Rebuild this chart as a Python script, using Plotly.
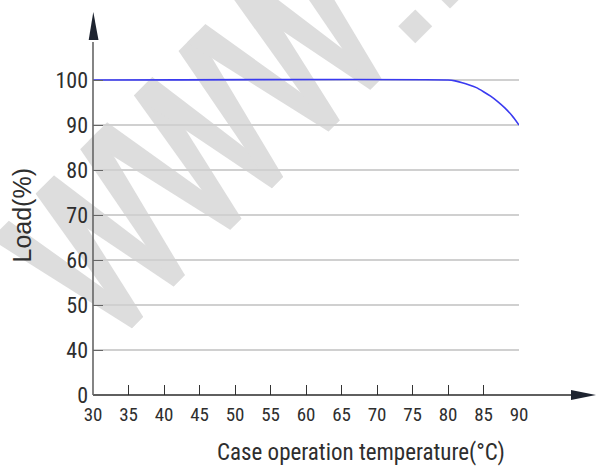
import math
import plotly.graph_objects as go

# ---- data ----
temps = [30, 80, 81, 82, 83, 84, 85, 86, 87, 88, 89, 90]
loads = [100, 100, 99.8, 99.4, 98.9, 98.3, 97.4, 96.4, 95.2, 93.8, 92.1, 90]
x_ticks = [30, 35, 40, 45, 50, 55, 60, 65, 70, 75, 80, 85, 90]
y_tick_labels = ["0", "40", "50", "60", "70", "80", "90", "100"]
y_tick_values = [0, 40, 50, 60, 70, 80, 90, 100]

# broken y axis: 0 sits one step below 40
def ypos(v):
    if v < 40:
        return v / 40.0
    return 1 + (v - 40) / 10.0

y_positions = [ypos(v) for v in y_tick_values]
load_pos = [ypos(v) for v in loads]

NARROW = "Roboto Condensed, Liberation Sans, Arial, sans-serif"
TXT = "#2e2e2e"

W, H = 596, 467
L, R, T, B = 93, 77, 62, 72
pw, ph = W - L - R, H - T - B

fig = go.Figure()
fig.add_trace(go.Scatter(
    x=temps, y=load_pos, mode="lines",
    line=dict(color="#3a3af0", width=1.6, shape="spline", smoothing=0.5),
    cliponaxis=False, hoverinfo="skip", showlegend=False,
))

def px_x(p):
    return (p - L) / pw

def px_y(p):
    return (H - B - p) / ph

shapes = []

# ---- watermark (decoration): rotated "WWW.." drawn as outlines ----
ang = math.radians(45)
ux, uy = math.cos(ang), -math.sin(ang)
vx, vy = -math.sin(ang), -math.cos(ang)
ox, oy = 137.5, 322.5
adv, gh = 139.0, 163.0
ttop, tbot = 26.0, 16.0

def wm_pt(lx, ly):
    sx = ox + lx * ux + ly * vx
    sy = oy + lx * uy + ly * vy
    return f"{px_x(sx):.4f},{px_y(sy):.4f}"

def poly(pts):
    return "M " + " L ".join(wm_pt(a, b) for a, b in pts) + " Z"

arms = [(-32, 0), (32, 0), (32, 59), (95, 59)]  # (top centre, bottom centre) along baseline
parts = []
for k in range(3):
    s = k * adv
    for c, b in arms:
        parts.append(poly([(s + c - ttop / 2, gh), (s + c + ttop / 2, gh),
                           (s + b + tbot / 2, 0), (s + b - tbot / 2, 0)]))
for cx in (405.8, 455.0):
    d = 12.0
    parts.append(poly([(cx - d, 13 + d), (cx + d, 13 + d), (cx + d, 13 - d), (cx - d, 13 - d)]))
for p in parts:
    shapes.append(dict(type="path", xref="paper", yref="paper", path=p,
                       fillcolor="#dddddd", line=dict(width=0), layer="below"))

# x axis line + arrow
shapes.append(dict(type="line", xref="paper", yref="paper", x0=0, x1=px_x(573), y0=0, y1=0,
                   line=dict(color="#2a2a2a", width=1.6), layer="above"))
shapes.append(dict(type="path", xref="paper", yref="paper",
                   path=f"M {px_x(571)},{px_y(390)} L {px_x(596)},{px_y(395)} L {px_x(571)},{px_y(400)} Z",
                   fillcolor="#1e2430", line=dict(width=0), layer="above"))
# y axis line + arrow
shapes.append(dict(type="line", xref="paper", yref="paper", x0=0, x1=0, y0=0, y1=px_y(42),
                   line=dict(color="#666666", width=1.6), layer="above"))
shapes.append(dict(type="path", xref="paper", yref="paper",
                   path=f"M {px_x(88.7)},{px_y(40)} L {px_x(93.3)},{px_y(12)} L {px_x(98.5)},{px_y(40)} Z",
                   fillcolor="#1e2430", line=dict(width=0), layer="above"))

annotations = [
    dict(text="Case operation temperature(°C)", xref="paper", yref="paper",
         x=px_x(361), y=px_y(452), showarrow=False, xanchor="center", yanchor="middle",
         font=dict(family=NARROW, size=23, color=TXT)),
    dict(text="Load(%)", xref="paper", yref="paper", textangle=-90,
         x=px_x(21), y=px_y(215.5), showarrow=False, xanchor="center", yanchor="middle",
         font=dict(family="Liberation Sans, Arial, sans-serif", size=25, color=TXT)),
]

fig.update_layout(
    width=W, height=H,
    margin=dict(l=L, r=R, t=T, b=B),
    paper_bgcolor="white", plot_bgcolor="rgba(0,0,0,0)",
    shapes=shapes, annotations=annotations,
    xaxis=dict(range=[30, 90], tickvals=x_ticks, ticktext=[str(v) for v in x_ticks],
               ticks="inside", ticklen=10, tickwidth=1.4, tickcolor="#333333",
               showgrid=False, zeroline=False, showline=False,
               tickfont=dict(family=NARROW, size=19, color=TXT), fixedrange=True),
    yaxis=dict(range=[0, ph / 45.0], tickvals=y_positions, ticktext=y_tick_labels,
               ticks="inside", ticklen=10, tickwidth=1.4, tickcolor="#666666",
               showgrid=True, gridcolor="#d0d0d0", gridwidth=1.6, zeroline=False, showline=False,
               tickfont=dict(family=NARROW, size=22, color=TXT), fixedrange=True),
)
fig.update_xaxes(ticklabelstandoff=6)
fig.update_yaxes(ticklabelstandoff=4)

fig.write_html("out.html", config={"displayModeBar": False},
               post_script="document.body.style.margin='0';")
